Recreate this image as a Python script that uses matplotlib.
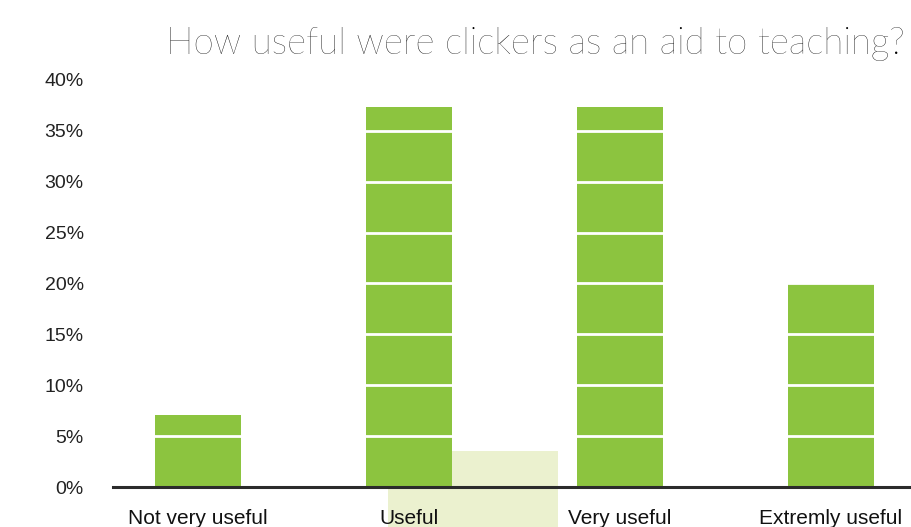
import matplotlib
matplotlib.use("Agg")
import matplotlib.pyplot as plt
from matplotlib.patches import Rectangle

categories = ["Not very useful", "Useful", "Very useful", "Extremly useful"]
values = [7.1, 37.3, 37.3, 20.0]
yticks = [0, 5, 10, 15, 20, 25, 30, 35, 40]
ytick_labels = ["0%", "5%", "10%", "15%", "20%", "25%", "30%", "35%", "40%"]
title = "How useful were clickers as an aid to teaching?"

W, H = 911, 527
fig = plt.figure(figsize=(W / 100, H / 100), dpi=100)
fig.patch.set_facecolor("white")

ax = fig.add_axes([113 / W, (H - 487) / H, (W - 113) / W, (487 - 80) / H])
x = list(range(len(categories)))
ax.bar(x, values, width=0.41, color="#8CC43F", zorder=2)
for t in yticks[1:-1]:
    ax.axhline(t, color="white", lw=2, zorder=3)

# pale highlight artifact behind bars (figure pixel coordinates)
ax.add_patch(Rectangle((388 / W, 0), (558 - 388) / W, (527 - 451) / H,
                       transform=fig.transFigure, facecolor="#EBF1CF",
                       edgecolor="none", zorder=1, clip_on=False))

ax.set_xlim(-0.403, 3.379)
ax.set_ylim(0, 40)
ax.set_yticks(yticks)
ax.set_yticklabels(ytick_labels, fontsize=14, family="Liberation Sans", color="#222222")
ax.set_xticks(x)
ax.set_xticklabels(categories, fontsize=15, family="Liberation Sans", color="#111111")
ax.tick_params(axis="both", length=0)
ax.tick_params(axis="y", pad=21)
ax.tick_params(axis="x", pad=16)
for s in ["top", "right", "left"]:
    ax.spines[s].set_visible(False)
ax.spines["bottom"].set_color("#2b2b2b")
ax.spines["bottom"].set_linewidth(2.2)
ax.spines["bottom"].set_zorder(4)

fig.text(905 / W, (H - 44) / H, title, ha="right", va="center", fontsize=26.5,
         family="Lato", fontweight="light", color="#000000")

fig.savefig("out.png", dpi=100)
